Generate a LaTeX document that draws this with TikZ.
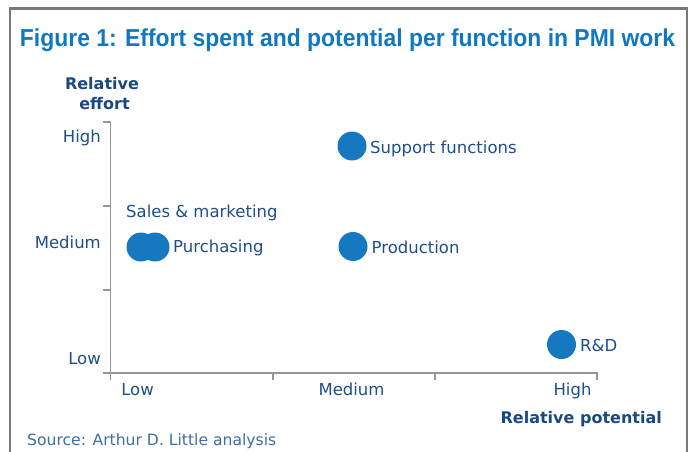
\documentclass[tikz,border=0pt]{standalone}
\usepackage{graphicx}
\usepackage{fontspec}
\setmainfont{DejaVu Sans}
\newfontfamily\titlefont{Liberation Sans}
\definecolor{dotblue}{RGB}{22,121,191}
\definecolor{titleblue}{RGB}{16,120,192}
\definecolor{txtblue}{RGB}{30,78,140}
\definecolor{axisnavy}{RGB}{26,72,130}
\definecolor{srcblue}{RGB}{60,110,168}
\definecolor{axisgray}{RGB}{150,150,150}
\definecolor{framegray}{RGB}{120,120,120}
\begin{document}
\begin{tikzpicture}[x=1pt,y=-1pt,
  dot/.style={circle, fill=dotblue, minimum size=29pt, inner sep=0pt},
  lbl/.style={inner sep=0pt, text=txtblue, font=\fontsize{16.5}{18}\selectfont},
  axtitle/.style={inner sep=0pt, text=axisnavy, font=\fontsize{16}{18}\selectfont\bfseries},
  axisline/.style={draw=axisgray, line width=1.4pt},
  frame/.style={draw=framegray, line width=2.5pt}]
\useasboundingbox (0,0) rectangle (691,452);
% frame
\draw[frame] (10,453) -- (10,8.5) -- (687,8.5) -- (687,453);
% title
\node[anchor=base, inner sep=0pt, text=titleblue] (title) at (347.5,47)
  {\resizebox{655pt}{\height}{\titlefont\bfseries\fontsize{24.5}{26}\selectfont Figure 1: Effort spent and potential per function in PMI work}};
% axes
\coordinate (ytop) at (110.5,122);
\coordinate (origin) at (110.5,373);
\coordinate (xend) at (597,373);
\draw[axisline] (103,122) -- (ytop) -- (origin) -- (xend) -- (597,380);
\draw[axisline] (103,373) -- (origin) -- (110.5,380);
\draw[axisline] (103,206) -- (110.5,206);
\draw[axisline] (103,290) -- (110.5,290);
\draw[axisline] (273,373) -- (273,380);
\draw[axisline] (435,373) -- (435,380);
% axis titles
\node[axtitle, anchor=base] (ytitle1) at (102,89) {Relative};
\node[axtitle, anchor=base] (ytitle2) at (104.5,110) {effort};
\node[axtitle, anchor=base east] (xtitle) at (662,423) {Relative potential};
% tick labels
\node[lbl, anchor=base east] (yhigh) at (101,142) {High};
\node[lbl, anchor=base east] (ymed) at (101,248) {Medium};
\node[lbl, anchor=base east] (ylow) at (101,364) {Low};
\node[lbl, anchor=base] (xlow) at (137.5,395) {Low};
\node[lbl, anchor=base] (xmed) at (351.5,395) {Medium};
\node[lbl, anchor=base] (xhigh) at (572.5,395) {High};
% data points
\node[dot] (sup) at (352,146) {};
\node[lbl, anchor=base west] (suplbl) at (370,153) {Support functions};
\node[dot] (sales) at (141,247) {};
\node[dot] (pur) at (155,247) {};
\node[lbl, anchor=base west] (saleslbl) at (126,217) {Sales \& marketing};
\node[lbl, anchor=base west] (purlbl) at (173,252) {Purchasing};
\node[dot] (prod) at (353,246.5) {};
\node[lbl, anchor=base west] (prodlbl) at (371.5,253) {Production};
\node[dot] (rd) at (561.5,344.5) {};
\node[lbl, anchor=base west] (rdlbl) at (580,351) {R\&D};
% source
\node[inner sep=0pt, anchor=base west, text=srcblue, font=\fontsize{15.6}{18}\selectfont] (src) at (27,445) {Source: Arthur D. Little analysis};
\end{tikzpicture}
\end{document}
